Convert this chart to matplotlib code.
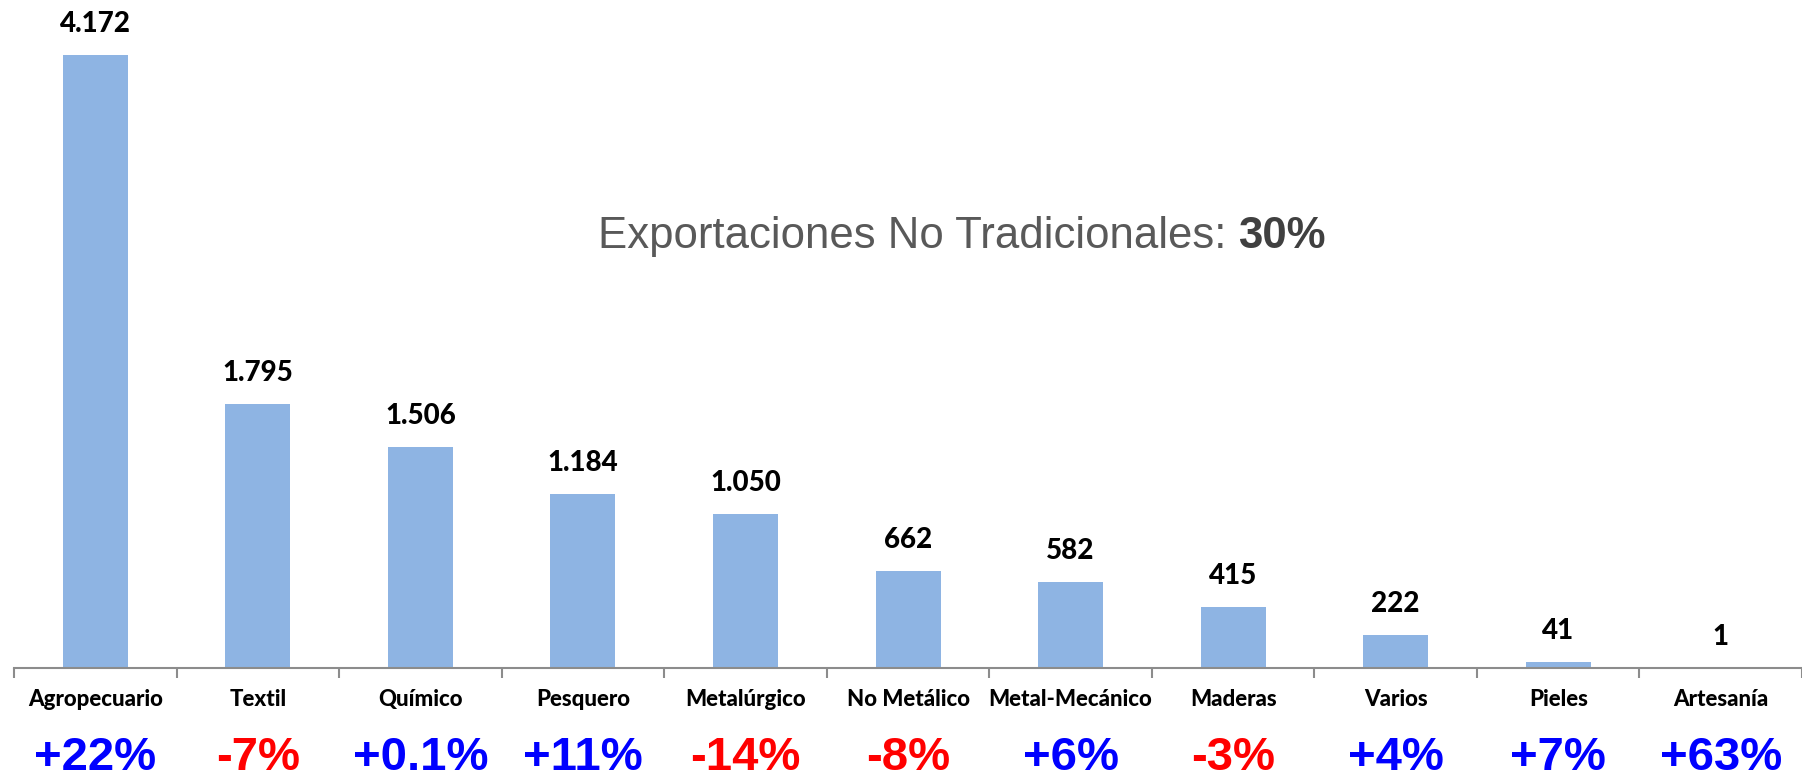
import matplotlib.pyplot as plt
import numpy as np

categories = [
    "Agropecuario", "Textil", "Químico", "Pesquero", "Metalúrgico",
    "No Metálico", "Metal-Mecánico", "Maderas", "Varios", "Pieles", "Artesanía"
]
values = [4172, 1795, 1506, 1184, 1050, 662, 582, 415, 222, 41, 1]
value_labels = ["4.172", "1.795", "1.506", "1.184", "1.050",
                "662", "582", "415", "222", "41", "1"]
changes = ["+22%", "-7%", "+0.1%", "+11%", "-14%", "-8%",
           "+6%", "-3%", "+4%", "+7%", "+63%"]

narrow = ["Liberation Sans Narrow", "Liberation Sans", "DejaVu Sans"]
label_font = ["Lato", "DejaVu Sans"]

fig = plt.figure(figsize=(18.02, 7.79), dpi=100)
ax = fig.add_axes([0.0078, 0.1425, 0.9922, 0.8575])

x = np.arange(len(categories))
bars = ax.bar(x, values, width=0.40, color="#8EB4E3")

ax.set_xlim(-0.5, len(categories) - 0.5)
ax.set_ylim(0, 4546)

for spine in ["top", "right", "left"]:
    ax.spines[spine].set_visible(False)
ax.spines["bottom"].set_color("#8C8C8C")
ax.spines["bottom"].set_linewidth(1.5)
ax.set_yticks([])

# boundary ticks between categories
ax.set_xticks(np.arange(len(categories) + 1) - 0.5)
ax.set_xticklabels([])
ax.tick_params(axis="x", length=7, width=1.5, color="#8C8C8C")

for xi, v, lab in zip(x, values, value_labels):
    ax.annotate(lab, (xi, v), xytext=(0, 13), textcoords="offset points",
                ha="center", va="bottom", fontsize=20, fontweight="black",
                family=label_font, color="black")

for xi, cat, ch in zip(x, categories, changes):
    ax.annotate(cat, (xi, 0), xytext=(0, -23), textcoords="offset points",
                ha="center", va="center", fontsize=16, fontweight="black",
                family=label_font, color="black")
    ax.annotate(ch, (xi, 0), xytext=(0, -65), textcoords="offset points",
                ha="center", va="center", fontsize=34, fontweight="bold",
                family=narrow,
                color="#FF0000" if ch.startswith("-") else "#0000FF")

t1 = fig.text(0.3318, 0.697, "Exportaciones No Tradicionales: ",
              fontsize=31.5, family=narrow, color="#595959",
              ha="left", va="center")
fig.canvas.draw()
bb = t1.get_window_extent()
x_end = fig.transFigure.inverted().transform((bb.x1, bb.y0))[0]
fig.text(x_end, 0.697, "30%", fontsize=31.5, fontweight="bold",
         family=narrow, color="#404040", ha="left", va="center")

fig.savefig("out.png", dpi=100)
